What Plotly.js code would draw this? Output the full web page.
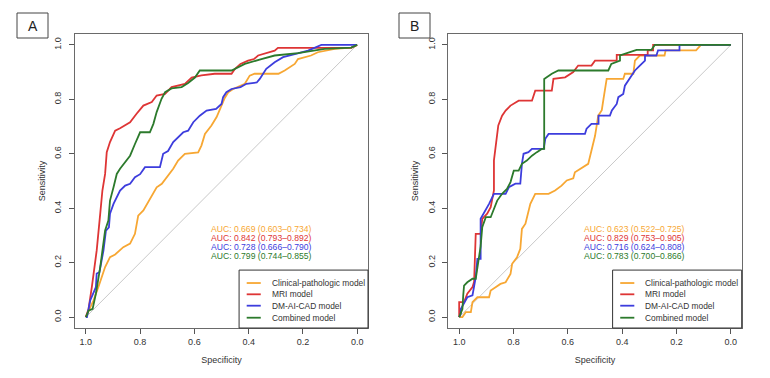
<!DOCTYPE html>
<html>
<head>
<meta charset="utf-8">
<script src="https://cdn.plot.ly/plotly-3.0.1.min.js"></script>
<style>html,body{margin:0;padding:0;background:#fff;}#chart{width:770px;height:378px;}</style>
</head>
<body>
<div id="chart"></div>
<script>
// ---------- DATA ----------
const modelNames = ["Clinical-pathologic model", "MRI model", "DM-AI-CAD model", "Combined model"];
const tickVals = [1.0, 0.8, 0.6, 0.4, 0.2, 0.0];
const tickText = ["1.0", "0.8", "0.6", "0.4", "0.2", "0.0"];
const panelLabels = ["A", "B"];
const aucTextA = ["AUC: 0.669 (0.603–0.734)", "AUC: 0.842 (0.793–0.892)", "AUC: 0.728 (0.666–0.790)", "AUC: 0.799 (0.744–0.855)"];
const aucTextB = ["AUC: 0.623 (0.522–0.725)", "AUC: 0.829 (0.753–0.905)", "AUC: 0.716 (0.624–0.808)", "AUC: 0.783 (0.700–0.866)"];

// Panel A
const specA_clin = [1.0, 0.972, 0.954, 0.929, 0.911, 0.892, 0.862, 0.837, 0.819, 0.807, 0.788, 0.77, 0.751, 0.739, 0.72, 0.696, 0.678, 0.66, 0.635, 0.586, 0.574, 0.561, 0.537, 0.518, 0.5, 0.488, 0.475, 0.457, 0.414, 0.396, 0.378, 0.29, 0.267, 0.23, 0.218, 0.17, 0.145, 0.083, 0.022, 0.0];
const sensA_clin = [0.0, 0.061, 0.11, 0.184, 0.22, 0.23, 0.257, 0.27, 0.306, 0.373, 0.392, 0.422, 0.453, 0.477, 0.49, 0.52, 0.545, 0.575, 0.6, 0.605, 0.63, 0.673, 0.704, 0.735, 0.78, 0.805, 0.826, 0.838, 0.857, 0.887, 0.894, 0.894, 0.906, 0.93, 0.948, 0.961, 0.973, 0.985, 0.99, 1.0];
const specA_mri = [1.0, 0.99, 0.978, 0.96, 0.947, 0.939, 0.929, 0.923, 0.911, 0.892, 0.874, 0.837, 0.813, 0.788, 0.757, 0.739, 0.708, 0.684, 0.635, 0.61, 0.574, 0.525, 0.463, 0.45, 0.43, 0.402, 0.38, 0.365, 0.304, 0.292, 0.022, 0.0];
const sensA_mri = [0.0, 0.03, 0.11, 0.245, 0.38, 0.465, 0.526, 0.606, 0.643, 0.685, 0.694, 0.716, 0.747, 0.777, 0.79, 0.814, 0.82, 0.845, 0.857, 0.88, 0.888, 0.894, 0.894, 0.912, 0.93, 0.942, 0.948, 0.961, 0.979, 0.989, 0.989, 1.0];
const specA_cad = [1.0, 0.996, 0.984, 0.963, 0.96, 0.95, 0.935, 0.926, 0.915, 0.911, 0.898, 0.886, 0.874, 0.855, 0.837, 0.819, 0.8, 0.782, 0.727, 0.715, 0.697, 0.678, 0.66, 0.641, 0.623, 0.604, 0.58, 0.555, 0.52, 0.5, 0.494, 0.482, 0.463, 0.43, 0.408, 0.37, 0.359, 0.347, 0.335, 0.304, 0.273, 0.23, 0.181, 0.132, 0.0];
const sensA_cad = [0.0, 0.0, 0.061, 0.11, 0.16, 0.165, 0.245, 0.318, 0.33, 0.38, 0.416, 0.44, 0.465, 0.483, 0.49, 0.514, 0.525, 0.551, 0.551, 0.6, 0.61, 0.643, 0.661, 0.679, 0.685, 0.716, 0.74, 0.759, 0.765, 0.783, 0.808, 0.826, 0.838, 0.845, 0.857, 0.862, 0.875, 0.894, 0.912, 0.936, 0.955, 0.966, 0.979, 1.0, 1.0];
const specA_comb = [1.0, 0.99, 0.975, 0.963, 0.947, 0.929, 0.917, 0.911, 0.898, 0.886, 0.874, 0.855, 0.837, 0.819, 0.8, 0.764, 0.751, 0.739, 0.721, 0.708, 0.684, 0.647, 0.623, 0.598, 0.58, 0.463, 0.44, 0.414, 0.353, 0.304, 0.218, 0.12, 0.022, 0.0];
const sensA_comb = [0.0, 0.024, 0.03, 0.086, 0.184, 0.318, 0.355, 0.428, 0.477, 0.526, 0.545, 0.569, 0.593, 0.636, 0.679, 0.679, 0.71, 0.753, 0.802, 0.826, 0.84, 0.845, 0.86, 0.88, 0.906, 0.906, 0.918, 0.93, 0.948, 0.961, 0.97, 0.985, 0.99, 1.0];

// Panel B
const specB_clin = [1.0, 0.988, 0.976, 0.957, 0.951, 0.933, 0.89, 0.884, 0.866, 0.848, 0.829, 0.811, 0.805, 0.787, 0.775, 0.769, 0.756, 0.738, 0.72, 0.671, 0.647, 0.623, 0.604, 0.58, 0.574, 0.555, 0.525, 0.513, 0.5, 0.488, 0.475, 0.469, 0.457, 0.396, 0.39, 0.359, 0.353, 0.335, 0.244, 0.24, 0.128, 0.11, 0.0];
const sensB_clin = [0.0, 0.0, 0.018, 0.018, 0.055, 0.073, 0.073, 0.098, 0.11, 0.122, 0.128, 0.159, 0.196, 0.22, 0.251, 0.324, 0.343, 0.416, 0.453, 0.453, 0.465, 0.483, 0.502, 0.51, 0.532, 0.545, 0.563, 0.612, 0.665, 0.74, 0.76, 0.8, 0.875, 0.875, 0.894, 0.894, 0.942, 0.961, 0.961, 0.98, 0.98, 1.0, 1.0];
const specB_mri = [1.0, 1.0, 0.982, 0.976, 0.97, 0.951, 0.945, 0.939, 0.921, 0.915, 0.897, 0.884, 0.872, 0.872, 0.866, 0.856, 0.842, 0.829, 0.811, 0.781, 0.732, 0.72, 0.659, 0.653, 0.61, 0.58, 0.562, 0.513, 0.5, 0.42, 0.42, 0.306, 0.306, 0.286, 0.286, 0.0];
const sensB_mri = [0.0, 0.055, 0.055, 0.07, 0.086, 0.11, 0.13, 0.306, 0.306, 0.361, 0.38, 0.404, 0.465, 0.576, 0.624, 0.704, 0.74, 0.759, 0.777, 0.795, 0.795, 0.832, 0.832, 0.875, 0.881, 0.9, 0.924, 0.924, 0.942, 0.942, 0.963, 0.963, 0.98, 0.98, 1.0, 1.0];
const specB_cad = [1.0, 0.994, 0.994, 0.982, 0.97, 0.951, 0.939, 0.933, 0.921, 0.921, 0.902, 0.89, 0.872, 0.829, 0.817, 0.793, 0.775, 0.769, 0.763, 0.745, 0.732, 0.689, 0.683, 0.671, 0.537, 0.531, 0.513, 0.487, 0.487, 0.445, 0.438, 0.42, 0.414, 0.396, 0.39, 0.378, 0.365, 0.353, 0.335, 0.316, 0.316, 0.274, 0.268, 0.189, 0.189, 0.0];
const sensB_cad = [0.0, 0.012, 0.03, 0.049, 0.073, 0.08, 0.147, 0.214, 0.214, 0.361, 0.392, 0.416, 0.453, 0.453, 0.477, 0.49, 0.49, 0.563, 0.6, 0.606, 0.618, 0.618, 0.655, 0.673, 0.673, 0.692, 0.71, 0.71, 0.74, 0.74, 0.759, 0.783, 0.808, 0.82, 0.85, 0.869, 0.887, 0.906, 0.924, 0.942, 0.961, 0.961, 0.98, 0.98, 1.0, 1.0];
const specB_comb = [1.0, 0.988, 0.985, 0.982, 0.97, 0.951, 0.939, 0.933, 0.927, 0.921, 0.915, 0.902, 0.884, 0.872, 0.86, 0.842, 0.824, 0.811, 0.799, 0.781, 0.769, 0.751, 0.732, 0.714, 0.696, 0.687, 0.687, 0.659, 0.635, 0.451, 0.44, 0.408, 0.408, 0.347, 0.292, 0.28, 0.0];
const sensB_comb = [0.0, 0.03, 0.08, 0.116, 0.128, 0.141, 0.141, 0.184, 0.208, 0.26, 0.33, 0.367, 0.367, 0.398, 0.428, 0.453, 0.471, 0.496, 0.538, 0.538, 0.563, 0.575, 0.593, 0.606, 0.618, 0.618, 0.875, 0.894, 0.906, 0.906, 0.93, 0.942, 0.961, 0.982, 0.982, 1.0, 1.0];

// ---------- STYLE ----------
const colors = ["#F7A733", "#DE3535", "#3D3DDD", "#2C7A2C"];
const FONT = "Liberation Sans, Arial, sans-serif";
const textColor = "#333333";

const panelsData = [
  {spec: [specA_clin, specA_mri, specA_cad, specA_comb], sens: [sensA_clin, sensA_mri, sensA_cad, sensA_comb], auc: aucTextA},
  {spec: [specB_clin, specB_mri, specB_cad, specB_comb], sens: [sensB_clin, sensB_mri, sensB_cad, sensB_comb], auc: aucTextB}
];

const traces = [];
const annotations = [];
const shapes = [];
const axSuffix = ["", "2"];

panelsData.forEach((p, pi) => {
  const xa = "x" + axSuffix[pi], ya = "y" + axSuffix[pi];
  for (let i = 0; i < 4; i++) {
    traces.push({
      type: "scatter", mode: "lines",
      x: p.spec[i], y: p.sens[i],
      xaxis: xa, yaxis: ya,
      name: modelNames[i], showlegend: false,
      line: {color: colors[i], width: 1.8},
      hoverinfo: "skip"
    });
  }
  // diagonal reference
  shapes.push({type: "line", xref: xa, yref: ya, x0: 1, y0: 0, x1: 0, y1: 1,
    line: {color: "#C8C8C8", width: 1}, layer: "below"});
  // AUC texts
  const aucY = [0.325, 0.292, 0.258, 0.224];
  p.auc.forEach((t, i) => {
    annotations.push({xref: xa, yref: ya, x: 0.355, y: aucY[i], text: t, showarrow: false,
      xanchor: "center", yanchor: "middle", font: {family: FONT, size: 8.6, color: colors[i]}});
  });
  // legend box (custom, drawn inside the plot area)
  const xd = xa + " domain", yd = ya + " domain";
  shapes.push({type: "rect", xref: xd, yref: yd, x0: 0.56, x1: 1, y0: 0, y1: 0.197,
    line: {color: "#333333", width: 1}, fillcolor: "rgba(255,255,255,0)"});
  const legY = [0.153, 0.1146, 0.0759, 0.035];
  for (let i = 0; i < 4; i++) {
    shapes.push({type: "line", xref: xd, yref: yd, x0: 0.586, x1: 0.634, y0: legY[i], y1: legY[i],
      line: {color: colors[i], width: 1.8}});
    annotations.push({xref: xd, yref: yd, x: 0.665, y: legY[i], text: modelNames[i], showarrow: false,
      xanchor: "left", yanchor: "middle", font: {family: FONT, size: 8.4, color: textColor}});
  }
});

// panel label boxes
const labelBoxes = [[17, 48], [399, 430]];
panelLabels.forEach((lab, i) => {
  const [l, r] = labelBoxes[i];
  shapes.push({type: "rect", xref: "paper", yref: "paper", x0: l / 770, x1: r / 770,
    y0: 1 - 38 / 378, y1: 1 - 13 / 378, line: {color: "#444444", width: 1}});
  annotations.push({xref: "paper", yref: "paper", x: (l + r) / 2 / 770, y: 1 - 26 / 378, text: lab,
    showarrow: false, xanchor: "center", yanchor: "middle", font: {family: FONT, size: 14, color: "#222222"}});
});

function xAxis(domain, anchor) {
  return {domain: domain, anchor: anchor, range: [1.04, -0.04], tickvals: tickVals, ticktext: tickText,
    ticks: "outside", ticklen: 5, tickwidth: 1, tickcolor: "#555555",
    showline: true, mirror: true, linecolor: "#6a6a6a", linewidth: 1.2,
    showgrid: false, zeroline: false, fixedrange: true,
    tickfont: {family: FONT, size: 9, color: textColor},
    title: {text: "Specificity", standoff: 10, font: {family: FONT, size: 9, color: textColor}}};
}
function yAxis(domain, anchor) {
  return {domain: domain, anchor: anchor, range: [-0.04, 1.04], tickvals: tickVals, ticktext: tickText,
    ticks: "outside", ticklen: 5, tickwidth: 1, tickcolor: "#555555", tickangle: -90,
    ticklabelstandoff: 4,
    showline: true, mirror: true, linecolor: "#6a6a6a", linewidth: 1.2,
    showgrid: false, zeroline: false, fixedrange: true,
    tickfont: {family: FONT, size: 9, color: textColor},
    title: {text: "Sensitivity", standoff: 6, font: {family: FONT, size: 9, color: textColor}}};
}

const yDom = [1 - 328 / 378, 1 - 34 / 378];
const layout = {
  width: 770, height: 378,
  margin: {l: 0, r: 0, t: 0, b: 0},
  paper_bgcolor: "#ffffff", plot_bgcolor: "#ffffff",
  showlegend: false,
  xaxis: xAxis([75 / 770, 368 / 770], "y"),
  yaxis: yAxis(yDom, "x"),
  xaxis2: xAxis([448.3 / 770, 741.7 / 770], "y2"),
  yaxis2: yAxis(yDom, "x2"),
  shapes: shapes,
  annotations: annotations,
  font: {family: FONT}
};

Plotly.newPlot("chart", traces, layout, {displayModeBar: false, staticPlot: true});
</script>
</body>
</html>
